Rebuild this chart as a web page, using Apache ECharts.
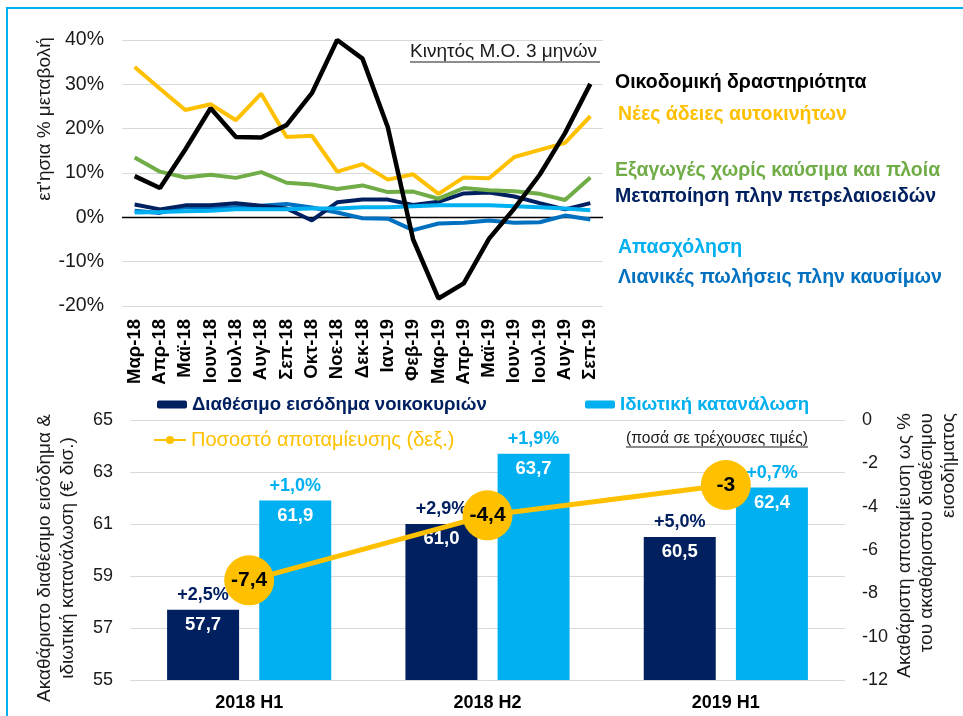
<!DOCTYPE html>
<html>
<head>
<meta charset="utf-8">
<script src="https://cdn.jsdelivr.net/npm/echarts@6/dist/echarts.min.js"></script>
<style>
html,body{margin:0;padding:0;background:#fff;}
#chart{width:963px;height:716px;}
</style>
</head>
<body>
<div id="chart"></div>
<script>
// ---------- Top chart data (3-month moving average, y-o-y % change) ----------
const months = ['Μαρ-18','Απρ-18','Μαϊ-18','Ιουν-18','Ιουλ-18','Αυγ-18','Σεπ-18','Οκτ-18','Νοε-18','Δεκ-18','Ιαν-19','Φεβ-19','Μαρ-19','Απρ-19','Μαϊ-19','Ιουν-19','Ιουλ-19','Αυγ-19','Σεπ-19'];
const construction  = [9.3, 6.6, 15.3, 24.6, 18.1, 18.0, 20.8, 28.0, 40.0, 35.8, 20.3, -5.0, -18.3, -14.9, -4.8, 2.0, 9.6, 19.0, 30.1];
const carLicences   = [33.9, 29.0, 24.2, 25.5, 21.9, 27.9, 18.1, 18.4, 10.3, 12.0, 8.5, 9.7, 5.3, 9.0, 8.8, 13.6, 15.2, 16.8, 22.8];
const exportsExFuel = [13.5, 10.3, 9.0, 9.6, 8.9, 10.2, 7.8, 7.4, 6.4, 7.2, 5.7, 5.8, 4.2, 6.6, 6.1, 5.9, 5.3, 3.9, 9.0];
const manufacturing = [2.9, 1.8, 2.7, 2.7, 3.2, 2.6, 2.0, -0.7, 3.4, 4.0, 4.0, 2.8, 3.5, 5.4, 5.6, 4.7, 3.2, 1.8, 3.2];
const employment    = [1.1, 1.2, 1.4, 1.5, 1.8, 1.8, 1.8, 2.0, 2.0, 2.3, 2.3, 2.5, 2.7, 2.7, 2.7, 2.5, 2.3, 2.0, 1.6];
const retailExFuel  = [1.5, 1.0, 2.3, 2.0, 2.3, 2.6, 3.0, 2.2, 1.1, -0.2, -0.3, -2.9, -1.4, -1.2, -0.7, -1.2, -1.1, 0.4, -0.5];

// ---------- Bottom chart data ----------
const halfYears   = ['2018 H1', '2018 H2', '2019 H1'];
const income      = [57.7, 61.0, 60.5];
const consumption = [61.9, 63.7, 62.4];
const incomeGrowth      = ['+2,5%', '+2,9%', '+5,0%'];
const consumptionGrowth = ['+1,0%', '+1,9%', '+0,7%'];
const savingRate  = [-7.4, -4.4, -3];

// ---------- Names ----------
const topNames = ['Οικοδομική δραστηριότητα','Νέες άδειες αυτοκινήτων','Εξαγωγές χωρίς καύσιμα και πλοία','Μεταποίηση πλην πετρελαιοειδών','Απασχόληση','Λιανικές πωλήσεις πλην καυσίμων'];
const nameIncome = 'Διαθέσιμο εισόδημα νοικοκυριών';
const nameCons   = 'Ιδιωτική κατανάλωση';
const nameSaving = 'Ποσοστό αποταμίευσης (δεξ.)';

const FONT = "'Liberation Sans', Arial, sans-serif";
const C = {black:'#000000', yellow:'#FFC000', green:'#70AD47', navy:'#002060', light:'#00B0F0', mid:'#0070C0'};
const fmt1 = v => v.toFixed(1).replace('.', ',');
const fmt = v => String(v).replace('.', ',');

const chart = echarts.init(document.getElementById('chart'), null, {renderer:'canvas'});

function lineS(name, data, color, width, z) {
  return {
    name, type:'line', data, xAxisIndex:0, yAxisIndex:0,
    symbol:'none', smooth:false, z,
    lineStyle:{color, width}, itemStyle:{color}
  };
}

function txt(x, y, text, color, size, weight) {
  return {
    type:'text', x, y, silent:true,
    style:{text, fill:color, font:(weight||'normal') + ' ' + size + 'px ' + FONT, align:'left', verticalAlign:'middle'}
  };
}

const option = {
  animation:false,
  backgroundColor:'#fff',
  textStyle:{fontFamily:FONT},
  grid:[
    {left:122, top:40, width:481, height:266, containLabel:false},
    {left:130, top:420, width:715, height:260, containLabel:false}
  ],
  xAxis:[
    {
      gridIndex:0, type:'category', data:months, boundaryGap:true,
      axisLine:{show:false}, axisTick:{show:false},
      axisLabel:{rotate:90, margin:13, color:'#000', fontWeight:'bold', fontSize:18.5, fontFamily:FONT, interval:0}
    },
    {
      gridIndex:1, type:'category', data:halfYears, boundaryGap:true,
      axisLine:{show:false}, axisTick:{show:false},
      axisLabel:{margin:14, color:'#000', fontWeight:'bold', fontSize:18, fontFamily:FONT}
    }
  ],
  yAxis:[
    {
      gridIndex:0, type:'value', min:-20, max:40, interval:10,
      axisLine:{show:false}, axisTick:{show:false},
      axisLabel:{formatter:'{value}%', color:'#1a1a1a', fontSize:19.5, margin:18, fontFamily:FONT},
      splitLine:{lineStyle:{color:'#d9d9d9', width:1}}
    },
    {
      gridIndex:1, type:'value', min:55, max:65, interval:2,
      axisLine:{show:false}, axisTick:{show:false},
      axisLabel:{color:'#1a1a1a', fontSize:18, margin:17, fontFamily:FONT},
      splitLine:{lineStyle:{color:'#d9d9d9', width:1}}
    },
    {
      gridIndex:1, type:'value', min:-12, max:0, interval:2, position:'right',
      axisLine:{show:false}, axisTick:{show:false},
      axisLabel:{color:'#1a1a1a', fontSize:18, margin:17, fontFamily:FONT},
      splitLine:{show:false}
    }
  ],
  legend:[
    {data:[nameIncome], left:157, top:395, padding:0, itemWidth:30, itemHeight:8, itemGap:0,
     textStyle:{color:C.navy, fontWeight:'bold', fontSize:18.6, fontFamily:FONT}},
    {data:[nameCons], left:585, top:395, padding:0, itemWidth:30, itemHeight:8, itemGap:0,
     textStyle:{color:C.light, fontWeight:'bold', fontSize:18.6, fontFamily:FONT}},
    {data:[nameSaving], left:153, top:430, padding:0, itemWidth:32, itemHeight:10, itemGap:0,
     textStyle:{color:C.yellow, fontSize:20, fontFamily:FONT}}
  ],
  series:[
    Object.assign(lineS(topNames[5], retailExFuel, C.mid, 4, 3), {
      markLine:{silent:true, symbol:['none','none'], label:{show:false},
        lineStyle:{color:'#000', width:1.3, type:'solid'}, data:[{yAxis:0}], z:1}
    }),
    lineS(topNames[3], manufacturing, C.navy, 4, 4),
    lineS(topNames[4], employment, C.light, 4, 5),
    lineS(topNames[2], exportsExFuel, C.green, 4, 6),
    lineS(topNames[1], carLicences, C.yellow, 4, 7),
    lineS(topNames[0], construction, C.black, 4.5, 8),
    {
      name:nameIncome, type:'bar', xAxisIndex:1, yAxisIndex:1, data:income,
      barWidth:72, barGap:'28%', itemStyle:{color:C.navy},
      label:{show:true, position:'top', distance:0, offset:[0,30],
        formatter:p => '{p|' + incomeGrowth[p.dataIndex] + '}\n{v|' + fmt1(p.value) + '}',
        rich:{
          p:{color:C.navy, fontWeight:'bold', fontSize:18, lineHeight:30, fontFamily:FONT, align:'center'},
          v:{color:'#fff', fontWeight:'bold', fontSize:18.5, lineHeight:30, fontFamily:FONT, align:'center'}
        }}
    },
    {
      name:nameCons, type:'bar', xAxisIndex:1, yAxisIndex:1, data:consumption,
      barWidth:72, barGap:'28%', itemStyle:{color:C.light},
      label:{show:true, position:'top', distance:0, offset:[0,30],
        formatter:p => '{p|' + consumptionGrowth[p.dataIndex] + '}\n{v|' + fmt1(p.value) + '}',
        rich:{
          p:{color:C.light, fontWeight:'bold', fontSize:18, lineHeight:30, fontFamily:FONT, align:'center'},
          v:{color:'#fff', fontWeight:'bold', fontSize:18.5, lineHeight:30, fontFamily:FONT, align:'center'}
        }}
    },
    {
      name:nameSaving, type:'line', xAxisIndex:1, yAxisIndex:2, data:savingRate,
      symbol:'circle', symbolSize:50, z:10,
      lineStyle:{color:C.yellow, width:5}, itemStyle:{color:C.yellow},
      label:{show:true, position:'inside', color:'#000', fontWeight:'bold', fontSize:21, fontFamily:FONT,
        formatter:p => fmt(p.value)}
    }
  ],
  graphic:[
    {type:'rect', silent:true, shape:{x:7, y:8, width:1200, height:900}, style:{fill:'none', stroke:C.light, lineWidth:2}},
    // top chart y-axis title
    {type:'text', x:45, y:119, rotation:Math.PI/2, silent:true,
     style:{text:'ετ\'ησια % μεταβολή', fill:'#1a1a1a', font:'normal 19px ' + FONT, align:'center', verticalAlign:'middle'}},
    // moving average note
    txt(410, 52, 'Κινητός Μ.Ο. 3 μηνών', '#1a1a1a', 19, 'normal'),
    {type:'line', silent:true, shape:{x1:410, y1:62, x2:600, y2:62}, style:{stroke:'#1a1a1a', lineWidth:1}},
    // series labels (top chart)
    txt(615, 83, topNames[0], C.black, 19.5, 'bold'),
    txt(618, 115, topNames[1], C.yellow, 19.5, 'bold'),
    txt(615, 171, topNames[2], C.green, 19.5, 'bold'),
    txt(615, 197, topNames[3], C.navy, 19.5, 'bold'),
    txt(618, 248, topNames[4], C.light, 19.5, 'bold'),
    txt(618, 278, topNames[5], C.mid, 19.5, 'bold'),
    // bottom notes
    txt(626, 439, '(ποσά σε τρέχουσες τιμές)', '#1a1a1a', 15.6, 'normal'),
    {type:'line', silent:true, shape:{x1:626, y1:447, x2:808, y2:447}, style:{stroke:'#1a1a1a', lineWidth:1}},
    // bottom left axis title
    {type:'text', x:56, y:558, rotation:Math.PI/2, silent:true,
     style:{text:'Ακαθάριστο διαθέσιμο εισόδημα &\nιδιωτική κατανάλωση (€ δισ.)', fill:'#1a1a1a', font:'normal 19px ' + FONT, align:'center', verticalAlign:'middle', lineHeight:23}},
    // bottom right axis title
    {type:'text', x:894, y:413, rotation:Math.PI/2, silent:true,
     style:{text:'Ακαθάριστη αποταμίευση ως %\nτου ακαθάριστου διαθέσιμου\nεισοδήματος', fill:'#1a1a1a', font:'normal 19px ' + FONT, align:'right', verticalAlign:'top', lineHeight:22}}
  ]
};
chart.setOption(option);
</script>
</body>
</html>
